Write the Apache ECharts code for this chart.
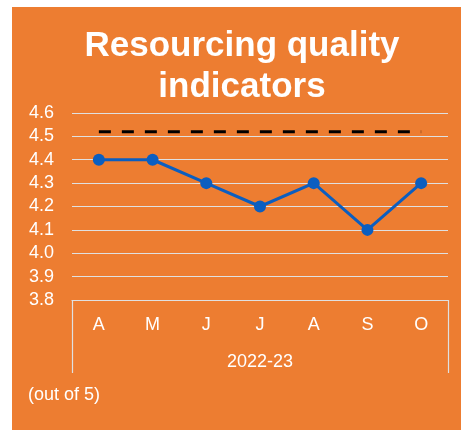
<!DOCTYPE html>
<html>
<head>
<meta charset="UTF-8">
<title>Resourcing quality indicators</title>
<script src="https://cdn.jsdelivr.net/npm/echarts@6/dist/echarts.min.js"></script>
<style>
  body { margin: 0; background: #fff; }
  #main { position: absolute; left: 12px; top: 7px; width: 449px; height: 423px; }
</style>
</head>
<body>
<div id="main"></div>
<script>
  // data
  var months = ['A', 'M', 'J', 'J', 'A', 'S', 'O'];
  var yearLabel = ['2022-23'];
  var quality = [4.4, 4.4, 4.3, 4.2, 4.3, 4.1, 4.3];
  var target = [4.52, 4.52, 4.52, 4.52, 4.52, 4.52, 4.52];

  var myChart = echarts.init(document.getElementById('main'));
  var font = 'Liberation Sans, Arial, sans-serif';

  var option = {
    backgroundColor: '#ED7D31',
    animation: false,
    title: [{
      text: 'Resourcing quality\nindicators',
      left: 225,
      top: 14,
      textAlign: 'center',
      textStyle: { color: '#fff', fontSize: 35, fontWeight: 'bold', fontFamily: font, lineHeight: 41 }
    }, {
      text: '(out of 5)',
      left: 11,
      top: 374,
      textStyle: { color: '#fff', fontSize: 18, fontWeight: 'normal', fontFamily: font }
    }],
    grid: { left: 60, right: 13, top: 106, bottom: 130 },
    xAxis: [{
      type: 'category',
      data: months,
      boundaryGap: true,
      axisLine: { show: false },
      axisTick: { show: false },
      axisLabel: { color: '#fff', fontSize: 18, fontFamily: font, margin: 16 }
    }, {
      type: 'category',
      data: yearLabel,
      position: 'bottom',
      boundaryGap: true,
      axisLine: { show: true, lineStyle: { color: '#E0E0E0', width: 1.2 } },
      axisTick: { show: true, length: 73, lineStyle: { color: '#E0E0E0', width: 1.2 } },
      axisLabel: { color: '#fff', fontSize: 18, fontFamily: font, margin: 53 }
    }],
    yAxis: {
      type: 'value',
      min: 3.8,
      max: 4.6,
      interval: 0.1,
      axisLine: { show: false },
      axisTick: { show: false },
      axisLabel: {
        color: '#fff', fontSize: 18, fontFamily: font, margin: 18,
        formatter: function (v) { return v.toFixed(1); }
      },
      splitLine: { lineStyle: { color: '#E0E0E0', width: 1.2 } }
    },
    series: [{
      name: 'target',
      type: 'line',
      data: target,
      symbol: 'none',
      lineStyle: { color: '#000', width: 3, type: [12, 11] },
      z: 3
    }, {
      name: 'quality',
      type: 'line',
      data: quality,
      symbol: 'circle',
      symbolSize: 12,
      itemStyle: { color: '#0B5EC0' },
      lineStyle: { color: '#0B5EC0', width: 3 },
      z: 4
    }]
  };

  myChart.setOption(option);
</script>
</body>
</html>
